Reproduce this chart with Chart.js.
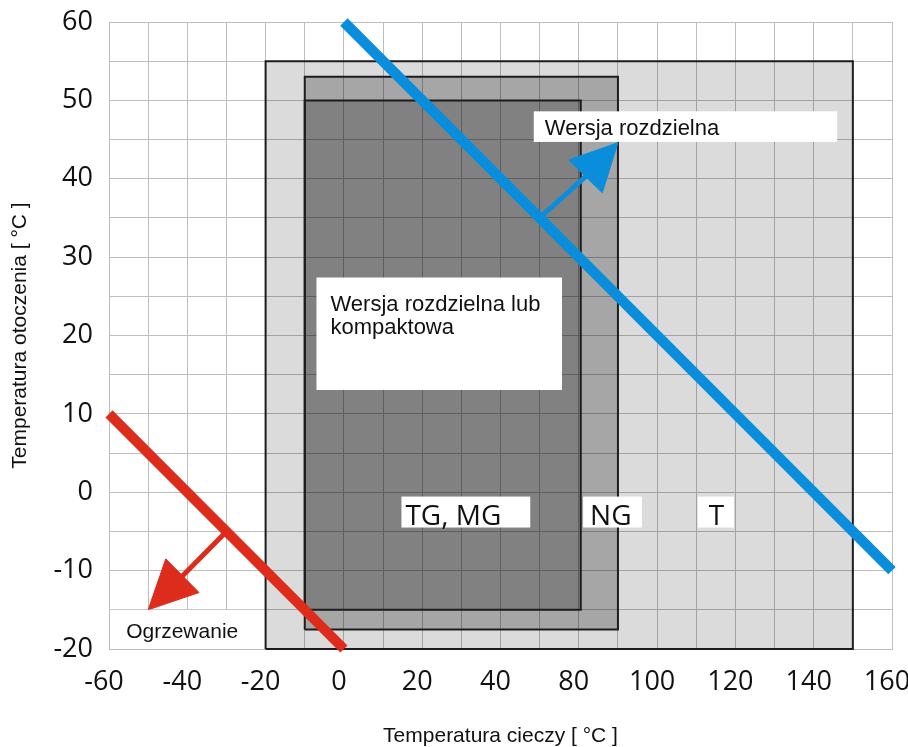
<!DOCTYPE html>
<html>
<head>
<meta charset="utf-8">
<script src="https://cdn.jsdelivr.net/npm/chart.js@4.4.1/dist/chart.umd.min.js"></script>
<style>
  html, body { margin: 0; padding: 0; background: #fff; }
</style>
</head>
<body>
<canvas id="chart" width="908" height="747"></canvas>
<script>
// x axis runs in 20 grid columns of 10 degrees; the printed labels skip "60"
let xTickLabels = ["-60", "-40", "-20", "0", "20", "40", "80", "100", "120", "140", "160"];
let yTickLabels = ["-20", "-10", "0", "10", "20", "30", "40", "50", "60"];

// operating ranges as [x0, x1, y0, y1]
let rangeT = [-20, 130, -20, 55];
let rangeNG = [-10, 70, -17.5, 53];
let rangeTG = [-10, 60.5, -15, 50];

let coolingLine = [[0, 60], [140, -10]];
let heatingLine = [[-60, 10], [0, -20]];

let coolingShaft = [[50, 35], [62, 40.4]];
let coolingHead = [[70, 44.6], [57.4, 42.4], [66, 38.2]];
let heatingShaft = [[-30, -5], [-41.5, -10.8]];
let heatingHead = [[-50, -15], [-45.5, -8.5], [-37, -12.8]];

let noteTexts = [
    ["Wersja rozdzielna"],
    ["Wersja rozdzielna lub", "kompaktowa"],
    ["TG, MG"],
    ["NG"],
    ["T"],
    ["Ogrzewanie"]
];

const BLUE = "#0a8edc";
const RED = "#dd2b1c";

// white label boxes: [x0, x1, y0, y1] in axis units, text offset in px
let notes = [
    { box: [48.5, 126, 44.7, 48.6], dx: 11, dy: 24, lh: 0, font: '22px "Liberation Sans"' },
    { box: [-7, 55.7, 13.05, 27.4], dx: 14, dy: 33, lh: 23, font: '22px "Liberation Sans"' },
    { box: [14.7, 47.6, -4.5, -0.55], dx: 4, dy: 28, lh: 0, font: '28px "Open Sans"' },
    { box: [61.1, 76.1, -4.5, -0.55], dx: 7, dy: 28, lh: 0, font: '28px "Open Sans"' },
    { box: [90.4, 99.6, -4.5, -0.55], dx: 11, dy: 28, lh: 0, font: '28px "Open Sans"' },
    { box: [-59.7, -20.4, -20, -15], dx: 16, dy: 28, lh: 0, font: '21px "Liberation Sans"' }
];

function pts(list) {
    return list.map(p => ({ x: p[0], y: p[1] }));
}

function rect(r) {
    return pts([[r[0], r[2]], [r[0], r[3]], [r[1], r[3]], [r[1], r[2]], [r[0], r[2]]]);
}

function closed(list) {
    return pts(list.concat([list[0]]));
}

const notesPlugin = {
    id: "notes",
    afterDatasetsDraw(chart) {
        const ctx = chart.ctx;
        const x = chart.scales.x, y = chart.scales.y;
        ctx.save();
        notes.forEach((n, i) => {
            const left = x.getPixelForValue(n.box[0]);
            const right = x.getPixelForValue(n.box[1]);
            const top = y.getPixelForValue(n.box[3]);
            const bottom = y.getPixelForValue(n.box[2]);
            ctx.fillStyle = "#fff";
            ctx.fillRect(left, top, right - left, bottom - top);
            ctx.fillStyle = "#111";
            ctx.font = n.font;
            ctx.textBaseline = "alphabetic";
            ctx.textAlign = "left";
            noteTexts[i].forEach((t, k) => ctx.fillText(t, left + n.dx, top + n.dy + k * n.lh));
        });
        ctx.restore();
    }
};

const common = { showLine: true, pointRadius: 0, tension: 0, clip: false, borderJoinStyle: "miter", borderCapStyle: "butt" };

new Chart(document.getElementById("chart"), {
    type: "line",
    data: {
        datasets: [
            Object.assign({ data: rect(rangeT), fill: "shape", backgroundColor: "rgba(0,0,0,0.14)", borderColor: "#1c1c1c", borderWidth: 2, order: 10 }, common),
            Object.assign({ data: rect(rangeNG), fill: "shape", backgroundColor: "rgba(0,0,0,0.242)", borderColor: "#1c1c1c", borderWidth: 2, order: 9 }, common),
            Object.assign({ data: rect(rangeTG), fill: "shape", backgroundColor: "rgba(0,0,0,0.229)", borderColor: "#1c1c1c", borderWidth: 2, order: 8 }, common),
            Object.assign({ data: pts(heatingLine), fill: false, borderColor: RED, borderWidth: 10, order: 3 }, common),
            Object.assign({ data: pts(coolingLine), fill: false, borderColor: BLUE, borderWidth: 10.5, order: 3 }, common),
            Object.assign({ data: pts(heatingShaft), fill: false, borderColor: RED, borderWidth: 5, order: 2 }, common),
            Object.assign({ data: pts(coolingShaft), fill: false, borderColor: BLUE, borderWidth: 5, order: 2 }, common),
            Object.assign({ data: closed(heatingHead), fill: "shape", backgroundColor: RED, borderColor: RED, borderWidth: 1, order: 1 }, common),
            Object.assign({ data: closed(coolingHead), fill: "shape", backgroundColor: BLUE, borderColor: BLUE, borderWidth: 1, order: 1 }, common)
        ]
    },
    options: {
        responsive: false,
        animation: false,
        events: [],
        layout: { padding: { top: 22, right: 16, left: 0, bottom: 0 } },
        plugins: { legend: { display: false }, tooltip: { enabled: false } },
        scales: {
            x: {
                type: "linear",
                min: -60,
                max: 140,
                afterFit(scale) { scale.height = 98; scale.paddingLeft = 0; scale.paddingRight = 0; },
                ticks: {
                    stepSize: 10,
                    autoSkip: false,
                    maxRotation: 0,
                    padding: 17,
                    labelOffset: -5,
                    color: "#111",
                    font: { family: "Open Sans", size: 27 },
                    callback: (v, i) => (i % 2 === 0 ? xTickLabels[i / 2] : "")
                },
                grid: { color: "#bdbdbd", lineWidth: 1, drawTicks: false },
                border: { display: true, color: "#bdbdbd" },
                title: {
                    display: true,
                    text: "Temperatura cieczy [ °C ]",
                    color: "#111",
                    font: { family: "Liberation Sans", size: 21 },
                    padding: { top: 0, bottom: -2 }
                }
            },
            y: {
                min: -20,
                max: 60,
                afterFit(scale) { scale.width = 109; scale.paddingTop = 0; scale.paddingBottom = 0; },
                ticks: {
                    stepSize: 5,
                    autoSkip: false,
                    padding: 16,
                    color: "#111",
                    font: { family: "Open Sans", size: 27 },
                    callback: (v, i) => (i % 2 === 0 ? yTickLabels[i / 2] : "")
                },
                grid: { color: "#bdbdbd", lineWidth: 1, drawTicks: false },
                border: { display: true, color: "#bdbdbd" },
                title: {
                    display: true,
                    text: "Temperatura otoczenia [ °C ]",
                    color: "#111",
                    font: { family: "Liberation Sans", size: 21 },
                    padding: { top: 8, bottom: 0 }
                }
            }
        }
    },
    plugins: [notesPlugin]
});
</script>
</body>
</html>
